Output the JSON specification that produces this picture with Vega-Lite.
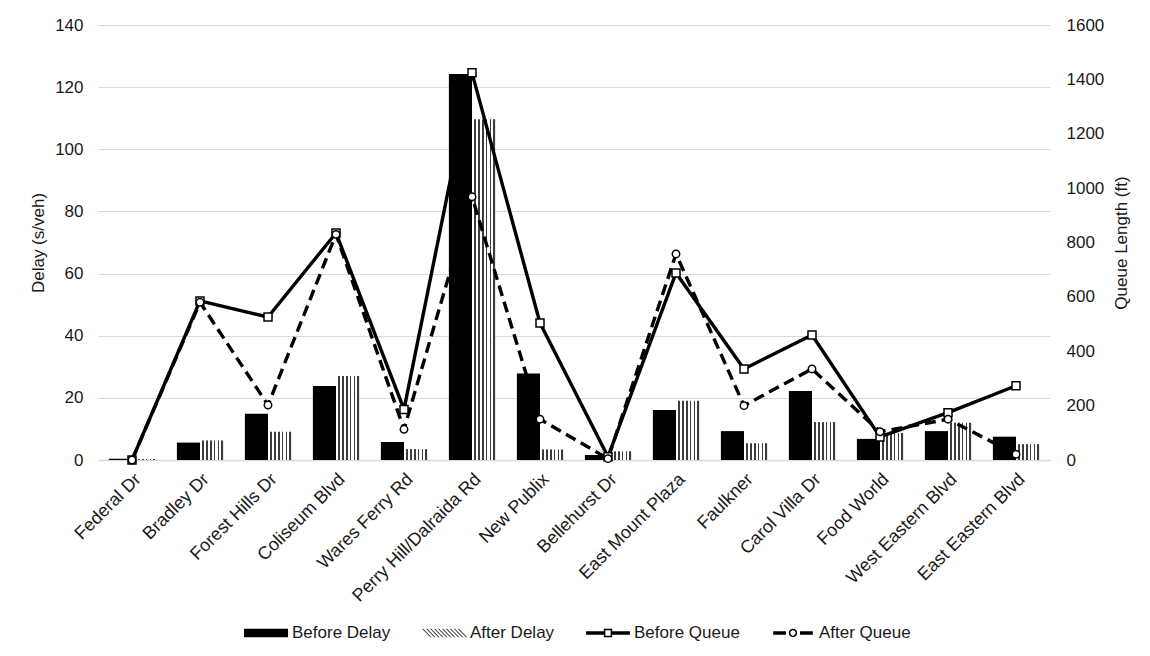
{
  "$schema": "https://vega.github.io/schema/vega-lite/v6.json",
  "autosize": {"type": "none"},
  "width": 952,
  "height": 435,
  "padding": {"left": 98, "top": 25, "right": 100, "bottom": 196},
  "background": "white",
  "config": {
    "font": "Liberation Sans",
    "view": {"stroke": null},
    "axis": {
      "labelFont": "Liberation Sans",
      "labelFontSize": 17,
      "labelColor": "#1a1a1a",
      "titleFont": "Liberation Sans",
      "titleFontSize": 17,
      "titleFontWeight": "normal",
      "titleColor": "#1a1a1a",
      "ticks": false,
      "tickSize": 0,
      "gridColor": "#d9d9d9",
      "gridWidth": 1
    },
    "legend": {
      "labelFont": "Liberation Sans",
      "labelFontSize": 17,
      "labelColor": "#1a1a1a",
      "symbolStrokeWidth": 0,
      "symbolOpacity": 1,
      "padding": 0
    }
  },
  "data": {
    "values": [
      {"site": "Federal Dr", "delay_before": 0.4, "delay_after": 0.3, "queue_before": 0, "queue_after": 0},
      {"site": "Bradley Dr", "delay_before": 5.6, "delay_after": 6.3, "queue_before": 585, "queue_after": 580},
      {"site": "Forest Hills Dr", "delay_before": 14.9, "delay_after": 9.1, "queue_before": 526, "queue_after": 202},
      {"site": "Coliseum Blvd", "delay_before": 23.8, "delay_after": 27, "queue_before": 835, "queue_after": 830},
      {"site": "Wares Ferry Rd", "delay_before": 5.8, "delay_after": 3.5, "queue_before": 186, "queue_after": 113},
      {"site": "Perry Hill/Dalraida Rd", "delay_before": 124.2, "delay_after": 109.7, "queue_before": 1424, "queue_after": 968},
      {"site": "New Publix", "delay_before": 27.8, "delay_after": 3.4, "queue_before": 504, "queue_after": 150},
      {"site": "Bellehurst Dr", "delay_before": 1.6, "delay_after": 2.8, "queue_before": 12, "queue_after": 5},
      {"site": "East Mount Plaza", "delay_before": 16.1, "delay_after": 19.1, "queue_before": 688, "queue_after": 758},
      {"site": "Faulkner", "delay_before": 9.3, "delay_after": 5.4, "queue_before": 335, "queue_after": 200},
      {"site": "Carol Villa Dr", "delay_before": 22.2, "delay_after": 12.2, "queue_before": 460, "queue_after": 335},
      {"site": "Food World", "delay_before": 6.8, "delay_after": 8.7, "queue_before": 85, "queue_after": 104},
      {"site": "West Eastern Blvd", "delay_before": 9.3, "delay_after": 12, "queue_before": 174, "queue_after": 150},
      {"site": "East Eastern Blvd", "delay_before": 7.5, "delay_after": 5.1, "queue_before": 273, "queue_after": 21}
    ]
  },
  "layer": [
    {
      "transform": [{"fold": ["delay_before", "delay_after"], "as": ["series", "delay"]}],
      "mark": {"type": "bar"},
      "encoding": {
        "x": {
          "field": "site", "type": "nominal", "sort": null,
          "scale": {"paddingInner": 0.32, "paddingOuter": 0.16},
          "axis": {"title": null, "labelAngle": -45, "labelFontSize": 18, "labelPadding": 10, "domainColor": "#d9d9d9", "domainWidth": 1.5}
        },
        "xOffset": {
          "field": "series", "type": "nominal", "sort": ["delay_before", "delay_after"],
          "scale": {"paddingInner": 0, "paddingOuter": 0}
        },
        "y": {
          "field": "delay", "type": "quantitative",
          "scale": {"domain": [0, 140], "nice": false},
          "axis": {"title": "Delay (s/veh)", "values": [0, 20, 40, 60, 80, 100, 120, 140], "domain": false, "labelPadding": 15, "titlePadding": 7}
        },
        "fill": {
          "condition": {
            "test": "datum.series === 'delay_after'",
            "value": {
              "gradient": "linear", "x1": 0, "y1": 0, "x2": 1, "y2": 0,
              "stops": [
                {"offset": 0, "color": "#ffffff"}, {"offset": 0.09, "color": "#ffffff"}, {"offset": 0.09, "color": "#3c3c3c"}, {"offset": 0.1667, "color": "#3c3c3c"},
                {"offset": 0.1667, "color": "#ffffff"}, {"offset": 0.2583, "color": "#ffffff"}, {"offset": 0.2583, "color": "#3c3c3c"}, {"offset": 0.3333, "color": "#3c3c3c"},
                {"offset": 0.3333, "color": "#ffffff"}, {"offset": 0.425, "color": "#ffffff"}, {"offset": 0.425, "color": "#3c3c3c"}, {"offset": 0.5, "color": "#3c3c3c"},
                {"offset": 0.5, "color": "#ffffff"}, {"offset": 0.5917, "color": "#ffffff"}, {"offset": 0.5917, "color": "#3c3c3c"}, {"offset": 0.6667, "color": "#3c3c3c"},
                {"offset": 0.6667, "color": "#ffffff"}, {"offset": 0.7583, "color": "#ffffff"}, {"offset": 0.7583, "color": "#3c3c3c"}, {"offset": 0.8333, "color": "#3c3c3c"},
                {"offset": 0.8333, "color": "#ffffff"}, {"offset": 0.925, "color": "#ffffff"}, {"offset": 0.925, "color": "#3c3c3c"}, {"offset": 1, "color": "#3c3c3c"}
              ]
            }
          },
          "value": "#000000"
        }
      }
    },
    {
      "encoding": {
        "x": {"field": "site", "type": "nominal", "sort": null}
      },
      "layer": [
        {
          "mark": {"type": "line", "color": "#000000", "strokeWidth": 3.4, "strokeJoin": "round"},
          "encoding": {
            "y": {
              "field": "queue_before", "type": "quantitative",
              "scale": {"domain": [0, 1600], "nice": false},
              "axis": {"orient": "right", "title": "Queue Length (ft)", "format": "d", "values": [0, 200, 400, 600, 800, 1000, 1200, 1400, 1600], "grid": false, "domain": false, "labelPadding": 16, "titlePadding": 10, "titleAngle": 270, "titleBaseline": "top"}
            }
          }
        },
        {
          "mark": {"type": "line", "color": "#000000", "strokeWidth": 3.4, "strokeDash": [11, 6], "strokeJoin": "round"},
          "encoding": {
            "y": {"field": "queue_after", "type": "quantitative"}
          }
        },
        {
          "mark": {"type": "point", "shape": "square", "filled": true, "fill": "#ffffff", "stroke": "#000000", "strokeWidth": 1.5, "size": 64, "opacity": 1},
          "encoding": {
            "y": {"field": "queue_before", "type": "quantitative"}
          }
        },
        {
          "mark": {"type": "point", "shape": "circle", "filled": true, "fill": "#ffffff", "stroke": "#000000", "strokeWidth": 1.5, "size": 55, "opacity": 1},
          "encoding": {
            "y": {"field": "queue_after", "type": "quantitative"}
          }
        }
      ]
    },
    {
      "data": {"values": [
        {"series": "Before Delay"}, {"series": "After Delay"}, {"series": "Before Queue"}, {"series": "After Queue"}
      ]},
      "transform": [{"filter": "false"}],
      "mark": {"type": "point", "filled": true, "strokeWidth": 0, "opacity": 1},
      "encoding": {
        "shape": {
          "field": "series", "type": "nominal",
          "scale": {
            "domain": ["Before Delay", "After Delay", "Before Queue", "After Queue"],
            "range": [
              "M-1,-0.19H1V0.19H-1Z",
              "M-1,-0.19H-0.94L-0.56,0.19H-0.62Z M-0.82,-0.19H-0.76L-0.38,0.19H-0.44Z M-0.64,-0.19H-0.58L-0.2,0.19H-0.26Z M-0.46,-0.19H-0.4L-0.02,0.19H-0.08Z M-0.28,-0.19H-0.22L0.16,0.19H0.1Z M-0.1,-0.19H-0.04L0.34,0.19H0.28Z M0.08,-0.19H0.14L0.52,0.19H0.46Z M0.26,-0.19H0.32L0.7,0.19H0.64Z M0.44,-0.19H0.5L0.88,0.19H0.82Z M0.62,-0.19H0.68L1.06,0.19H1Z",
              "M-1,-0.075H-0.19V0.075H-1Z M0.19,-0.075H1V0.075H0.19Z M-0.19,-0.19H0.19V0.19H-0.19Z M-0.12,-0.12V0.12H0.12V-0.12Z",
              "M-0.9,-0.075H-0.32V0.075H-0.9Z M0.32,-0.075H0.9V0.075H0.32Z M-0.19,0A0.19,0.19 0 1,1 0.19,0A0.19,0.19 0 1,1 -0.19,0Z M-0.12,0A0.12,0.12 0 1,0 0.12,0A0.12,0.12 0 1,0 -0.12,0Z"
            ]
          },
          "legend": {
            "title": null, "orient": "none", "direction": "horizontal",
            "legendX": 146, "legendY": 586,
            "symbolSize": 1936, "symbolOpacity": 1, "labelOffset": 4, "columnPadding": 31
          }
        },
        "fill": {
          "field": "series", "type": "nominal",
          "scale": {
            "domain": ["Before Delay", "After Delay", "Before Queue", "After Queue"],
            "range": ["#000000", "#3c3c3c", "#000000", "#000000"]
          },
          "legend": {
            "title": null, "orient": "none", "direction": "horizontal",
            "legendX": 146, "legendY": 586,
            "symbolSize": 1936, "symbolOpacity": 1, "labelOffset": 4, "columnPadding": 31
          }
        }
      }
    }
  ],
  "resolve": {"scale": {"y": "independent"}}
}
